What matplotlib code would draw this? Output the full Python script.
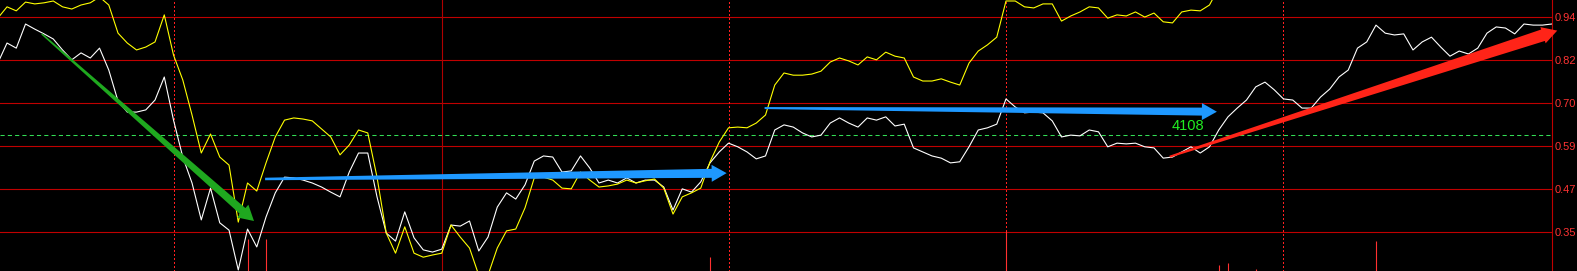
import numpy as np
import matplotlib
matplotlib.use('Agg')
import matplotlib.pyplot as plt
from matplotlib.patches import Polygon
from matplotlib.transforms import IdentityTransform

plt.rcParams['font.family'] = ['Liberation Sans', 'DejaVu Sans']

# white line, one value per bar (bar 0 .. 168)
white = [
    0.815, 0.870, 0.856, 0.922, 0.908, 0.895, 0.881, 0.851, 0.824, 0.843,
    0.829, 0.856, 0.796, 0.711, 0.681, 0.681, 0.687, 0.714, 0.777, 0.659,
    0.558, 0.487, 0.386, 0.473, 0.378, 0.358, 0.249, 0.361, 0.312, 0.394,
    0.460, 0.503, 0.501, 0.495, 0.487, 0.476, 0.462, 0.449, 0.517, 0.569,
    0.569, 0.449, 0.350, 0.328, 0.408, 0.337, 0.304, 0.298, 0.306, 0.372,
    0.369, 0.383, 0.301, 0.339, 0.421, 0.460, 0.443, 0.482, 0.547, 0.561,
    0.558, 0.517, 0.520, 0.561, 0.528, 0.487, 0.495, 0.487, 0.501, 0.487,
    0.495, 0.495, 0.476, 0.413, 0.471, 0.462, 0.490, 0.542, 0.572, 0.596,
    0.586, 0.572, 0.553, 0.561, 0.632, 0.646, 0.640, 0.624, 0.613, 0.618,
    0.651, 0.665, 0.651, 0.640, 0.665, 0.659, 0.668, 0.643, 0.648, 0.583,
    0.572, 0.561, 0.555, 0.542, 0.545, 0.586, 0.632, 0.638, 0.648, 0.717,
    0.695, 0.679, 0.681, 0.679, 0.657, 0.613, 0.618, 0.616, 0.632, 0.627,
    0.586, 0.596, 0.594, 0.596, 0.586, 0.583, 0.555, 0.558, 0.572, 0.586,
    0.569, 0.586, 0.632, 0.668, 0.692, 0.714, 0.750, 0.763, 0.742, 0.717,
    0.714, 0.692, 0.692, 0.722, 0.744, 0.777, 0.796, 0.856, 0.873, 0.919,
    0.897, 0.892, 0.895, 0.851, 0.873, 0.886, 0.859, 0.834, 0.848, 0.840,
    0.856, 0.897, 0.914, 0.911, 0.895, 0.922, 0.919, 0.919, 0.922,
]

# yellow line, runs off the top after bar 132
yellow = [
    0.938, 0.969, 0.958, 0.982, 0.977, 0.980, 0.985, 0.969, 0.963, 0.974,
    0.980, 0.996, 0.974, 0.897, 0.870, 0.851, 0.859, 0.873, 0.947, 0.837,
    0.769, 0.673, 0.569, 0.621, 0.558, 0.536, 0.380, 0.487, 0.465, 0.542,
    0.613, 0.659, 0.665, 0.662, 0.657, 0.635, 0.613, 0.564, 0.591, 0.632,
    0.624, 0.503, 0.350, 0.295, 0.367, 0.295, 0.284, 0.290, 0.295, 0.372,
    0.339, 0.309, 0.235, 0.235, 0.309, 0.356, 0.361, 0.419, 0.501, 0.503,
    0.495, 0.473, 0.471, 0.517, 0.495, 0.476, 0.479, 0.484, 0.495, 0.487,
    0.493, 0.498, 0.473, 0.402, 0.449, 0.460, 0.473, 0.545, 0.599, 0.638,
    0.640, 0.638, 0.651, 0.673, 0.755, 0.788, 0.782, 0.782, 0.785, 0.793,
    0.818, 0.829, 0.821, 0.810, 0.832, 0.824, 0.845, 0.834, 0.829, 0.777,
    0.766, 0.766, 0.772, 0.763, 0.755, 0.815, 0.848, 0.865, 0.886, 0.985,
    0.985, 0.969, 0.966, 0.977, 0.977, 0.930, 0.944, 0.955, 0.969, 0.966,
    0.938, 0.947, 0.944, 0.955, 0.941, 0.952, 0.928, 0.925, 0.955, 0.960,
    0.958, 0.974, 1.021,
]

grid_levels = [16/17, 14/17, 12/17, 10/17, 8/17, 6/17]
grid_labels = ['0.94', '0.82', '0.70', '0.59', '0.47', '0.35']
golden = 0.618

dotted_bars = [19, 79, 109, 139]
solid_bars = [48]

# small red spikes at the bottom
spike_x = [27, 29, 77, 109, 132, 133, 136, 149]
spike_top = [0.334, 0.334, 0.284, 0.356, 0.263, 0.268, 0.252, 0.328]

# arrows: tail -> tip (bar, value)
arrow_tail = [(4.75, 0.895), (28.9, 0.498), (82.9, 0.692), (126.7, 0.559)]
arrow_tip = [(27.7, 0.383), (78.8, 0.514), (131.8, 0.682), (168.6, 0.904)]
arrow_color = ['#1fa81f', '#1e98ff', '#1e98ff', '#ff2418']
# tail width, shaft width at head, head width, head length (pixels)
arrow_size = [(1.5, 8, 17, 15), (2.5, 9, 17, 15), (2, 8, 17, 15), (2, 12, 17, 15)]

label_pos = (128.7, 0.644)
label_text = '4108'

Y_MIN, Y_MAX = 0.2462, 0.9877
X_MIN, X_MAX = 0.24, 168.03


def taper_arrow(fig, ax, tail, tip, color, size):
    tail_w, shaft_w, head_w, head_len = size
    t = ax.transData.transform(tail)
    p = ax.transData.transform(tip)
    u = (p - t) / np.hypot(*(p - t))
    n = np.array([-u[1], u[0]])
    b = p - u * head_len
    pts = [t + n * tail_w / 2, b + n * shaft_w / 2, b + n * head_w / 2, p,
           b - n * head_w / 2, b - n * shaft_w / 2, t - n * tail_w / 2]
    poly = Polygon(pts, closed=True, transform=IdentityTransform(),
                   facecolor=color, edgecolor='none', zorder=5)
    fig.add_artist(poly)


fig = plt.figure(figsize=(15.77, 2.71), dpi=100, facecolor='black')
ax = fig.add_axes([0, 0, 1552 / 1577, 1])
ax.set_facecolor('black')
ax.set_xlim(X_MIN, X_MAX)
ax.set_ylim(Y_MIN, Y_MAX)

ax.set_yticks(grid_levels, grid_labels)
ax.yaxis.tick_right()
ax.tick_params(axis='y', length=0, pad=2, labelsize=8, labelcolor='#ff3333')
ax.set_xticks([])
ax.grid(axis='y', color='#c00000', lw=0.8)
for s in ['left', 'top', 'bottom']:
    ax.spines[s].set_visible(False)
ax.spines['right'].set_color('#c00000')
ax.spines['right'].set_linewidth(0.8)

for xb in dotted_bars:
    ax.axvline(xb, color='#ff2020', lw=0.75, dashes=(1, 2), antialiased=False)
for xb in solid_bars:
    ax.axvline(xb, color='#b00000', lw=0.8)

ax.axhline(golden, color='#33dd55', lw=0.75, dashes=(4, 3))

ax.vlines(spike_x, Y_MIN, spike_top, color='#ff3030', lw=0.8)

ax.plot(np.arange(len(white)), white, color='white', lw=0.8)
ax.plot(np.arange(len(yellow)), yellow, color='#ffff00', lw=0.8)

ax.text(label_pos[0], label_pos[1], label_text, color='#22ee22', fontsize=10.5,
        ha='center', va='center')

for tail, tip, c, sz in zip(arrow_tail, arrow_tip, arrow_color, arrow_size):
    taper_arrow(fig, ax, tail, tip, c, sz)

fig.savefig('out.png', dpi=100, facecolor='black')
